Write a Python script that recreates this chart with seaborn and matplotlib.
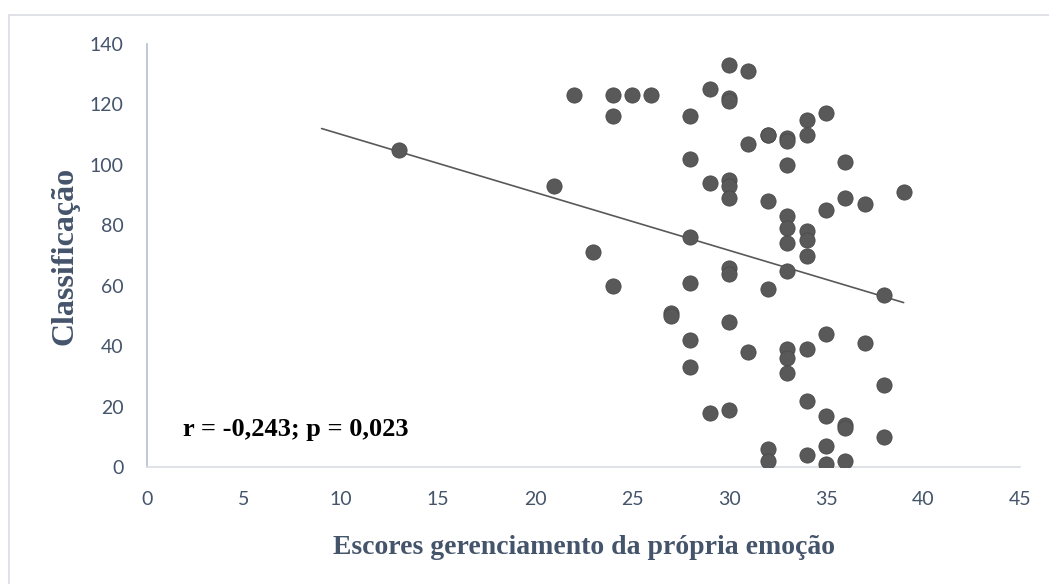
import numpy as np
import pandas as pd
import seaborn as sns
import matplotlib.pyplot as plt
from matplotlib.patches import Rectangle

# escores x classificacao
escores = [13, 21, 22, 23, 24, 24, 24, 25, 26, 27, 27,
           28, 28, 28, 28, 28, 28, 29, 29, 29,
           30, 30, 30, 30, 30, 30, 30, 30, 30, 30,
           31, 31, 31, 32, 32, 32, 32, 32, 32,
           33, 33, 33, 33, 33, 33, 33, 33, 33, 33,
           34, 34, 34, 34, 34, 34, 34, 34,
           35, 35, 35, 35, 35, 35, 36, 36, 36, 36, 36,
           37, 37, 38, 38, 38, 39]
classificacao = [105, 93, 123, 71, 123, 116, 60, 123, 123, 51, 50,
                 116, 102, 76, 61, 42, 33, 125, 94, 18,
                 133, 122, 121, 95, 93, 89, 66, 64, 48, 19,
                 131, 107, 38, 110, 110, 88, 59, 6, 2,
                 109, 108, 100, 83, 79, 74, 65, 39, 36, 31,
                 115, 110, 78, 75, 70, 39, 22, 4,
                 117, 85, 44, 17, 7, 1, 101, 89, 14, 13, 2,
                 87, 41, 57, 27, 10, 91]
x_ticks = [0, 5, 10, 15, 20, 25, 30, 35, 40, 45]
y_ticks = [0, 20, 40, 60, 80, 100, 120, 140]
anotacao = "r = -0,243; p = 0,023"

# Excel linear trendline as drawn (some points overlap and are hidden),
# so slope/intercept are read off the picture; backward forecast to x=9
trend_slope = -1.92
trend_intercept = 129.3
trend_x = [9, 39]

df = pd.DataFrame({"escores": escores, "classificacao": classificacao})

sns.set_style("white")
plt.rcParams['font.family'] = ['Lato', 'DejaVu Sans']

fig = plt.figure(figsize=(10.49, 5.84), dpi=100)
ax = fig.add_axes([0.1401, 0.2003, 0.8323, 0.7244])

# chart area border (cropped on right/bottom like the source)
fig.patches.append(Rectangle((9 / 1049, -0.05), 1.2, (584 - 15) / 584 + 0.05,
                             transform=fig.transFigure, fill=False,
                             edgecolor="#D9DDE3", linewidth=1.2))

xl = np.array(trend_x)
ax.plot(xl, trend_intercept + trend_slope * xl, color="#595959",
        linewidth=1.2, zorder=2)

sns.scatterplot(data=df, x="escores", y="classificacao", ax=ax, s=120,
                color="#595959", edgecolor="#4a4a4a", linewidth=0.6, zorder=3)

ax.set_xlim(0, 45)
ax.set_ylim(0, 140)
ax.set_xticks(x_ticks)
ax.set_yticks(y_ticks)
ax.tick_params(axis="both", length=0, labelsize=14, labelcolor="#44546A")
ax.tick_params(axis="y", pad=17)
ax.tick_params(axis="x", pad=17)

for s in ["top", "right"]:
    ax.spines[s].set_visible(False)
ax.spines["left"].set_color("#B4BFD2")
ax.spines["left"].set_linewidth(1.2)
ax.spines["bottom"].set_color("#D9DDE3")
ax.spines["bottom"].set_linewidth(1.2)

lab = dict(family="Liberation Serif", fontweight="bold", color="#44546A")
ax.set_xlabel("Escores gerenciamento da própria emoção", labelpad=20,
              fontsize=20, **lab)
ax.set_ylabel("Classificação", labelpad=7, fontsize=23, **lab)

ax.text(1.85, 12.5, anotacao, family="Liberation Serif", fontweight="bold",
        fontsize=19, color="black", va="center")

fig.savefig("out.png", dpi=100)
